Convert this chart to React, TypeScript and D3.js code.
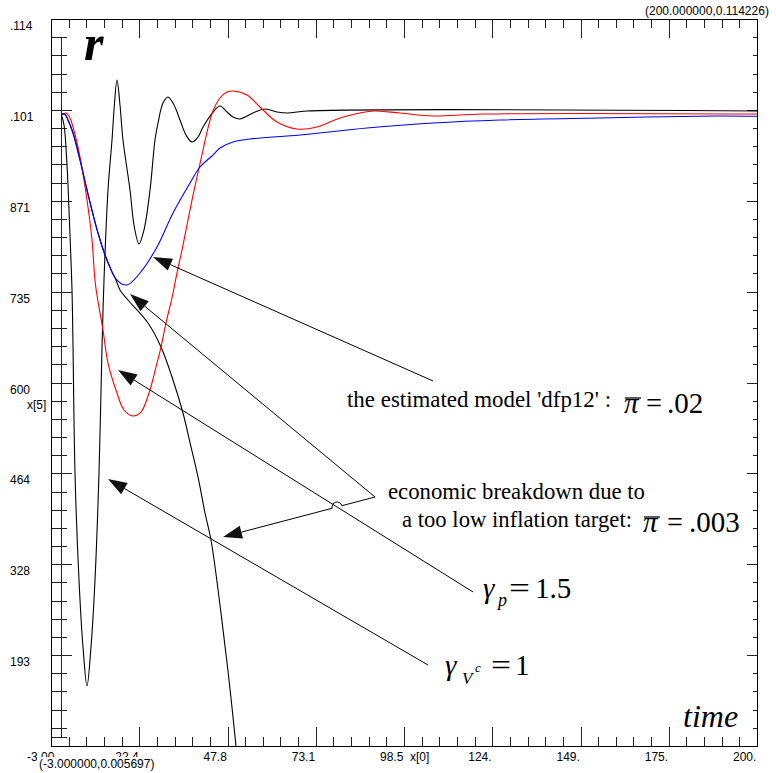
import React from "react";
import * as d3 from "d3";

const W = 776;
const H = 773;
const T_DOMAIN = [-3, 200];
const R_DOMAIN = [0.005697, 0.114226];
const X_TICK_LABELS = ["-3.00", "22.4", "47.8", "73.1", "98.5", "124.", "149.", "175.", "200."];
const Y_TICK_LABELS = [".114", ".101", "871", "735", "600", "464", "328", "193"];

// estimated model 'dfp12' (blue)
const modelSeries: [number, number][] = [
  [0, 0.10004], [1.0, 0.10000], [1.89, 0.09915], [3.33, 0.09721], [5.34, 0.09318],
  [7.35, 0.0887], [10.51, 0.08228], [13.1, 0.07825], [15.98, 0.07526], [18.85, 0.07452],
  [22.59, 0.07631], [27.48, 0.08019], [32.08, 0.08526], [36.97, 0.08974], [39.84, 0.09213],
  [43.58, 0.09392], [45.59, 0.09497], [49.33, 0.09586], [54.22, 0.09631], [68.6, 0.09691],
  [87.86, 0.09795], [106.84, 0.0987], [126.11, 0.09915], [154.86, 0.09945], [188.5, 0.09975],
  [200, 0.0997],
];

// too low inflation target (black, breakdown)
const breakdownSeries: [number, number][] = [
  [0, 0.10004], [1.0, 0.10000], [1.89, 0.09915], [3.33, 0.09721], [5.34, 0.09318],
  [7.35, 0.0887], [10.51, 0.08228], [12.53, 0.079], [14.54, 0.07646], [15.69, 0.07526],
  [16.84, 0.07377], [19.14, 0.07228], [24.89, 0.06884], [28.63, 0.06526], [32.08, 0.06034],
  [34.95, 0.05541], [37.26, 0.05034], [39.27, 0.04586], [41.28, 0.04048], [43.01, 0.03645],
  [45.88, 0.02556], [48.18, 0.01555], [50.2, 0.0057], [51.35, -0.00087],
];

// gamma_p = 1.5 (red)
const gammaPSeries: [number, number][] = [
  [0, 0.0999], [1.31, 0.10019], [2.46, 0.09945], [3.33, 0.0981], [5.34, 0.09363],
  [7.35, 0.0872], [8.79, 0.08123], [9.8, 0.07452], [11.95, 0.0678], [13.39, 0.06287],
  [15.69, 0.05884], [17.99, 0.05586], [20.58, 0.05496], [22.88, 0.05556], [25.18, 0.05839],
  [27.19, 0.06228], [28.63, 0.06526], [30.07, 0.06888], [31.79, 0.07258], [33.23, 0.07631],
  [34.67, 0.07974], [36.1, 0.08347], [37.54, 0.0872], [38.98, 0.09064], [40.71, 0.09467],
  [42.14, 0.09795], [43.58, 0.10049], [45.59, 0.10243], [47.61, 0.10333], [49.33, 0.10348],
  [53.36, 0.10288], [57.1, 0.10109], [61.98, 0.09885], [67.73, 0.0978],
  [73.49, 0.0981], [80.1, 0.09945], [85.85, 0.10019], [89.59, 0.10049], [97.35, 0.10019],
  [106.84, 0.09975], [121.22, 0.10004], [200, 0.10004],
];

// gamma_Vc = 1 (black, oscillating)
const gammaVSeries: [number, number][] = [
  [0, 0.0999], [0.74, 0.0984], [1.6, 0.09243], [2.46, 0.08198], [3.04, 0.07377],
  [3.33, 0.06526], [3.9, 0.04645], [5.05, 0.03048], [6.2, 0.02048], [7.35, 0.01465],
  [8.5, 0.02048], [9.65, 0.03048], [10.8, 0.04645], [11.67, 0.06526], [12.24, 0.07526],
  [13.39, 0.0887], [14.54, 0.09616], [15.12, 0.10064], [15.98, 0.10512], [16.84, 0.10139],
  [17.7, 0.09616], [19.72, 0.0887], [20.87, 0.08347], [22.3, 0.08064], [23.74, 0.08273],
  [25.47, 0.0887], [26.9, 0.09616], [27.77, 0.0987], [29.2, 0.10169], [30.64, 0.10258],
  [32.37, 0.10139], [34.09, 0.09915], [35.82, 0.09691], [37.54, 0.09586], [39.27, 0.09661],
  [40.71, 0.0981], [43.58, 0.10034], [45.59, 0.10124], [47.61, 0.10034], [49.33, 0.0996],
  [51.35, 0.0993], [53.36, 0.09975], [55.08, 0.10019], [58.53, 0.10079], [61.98, 0.10034],
  [65.15, 0.10019], [70.61, 0.10049], [200, 0.10049],
];

// annotation anchors in data units: [start t, start r, tip t, tip r]
const modelArrow = [106.84, 0.06019, 26.33, 0.0787];
const breakdownJoin = [90.16, 0.04287];
const breakdownTips = [[19.72, 0.07317], [46.46, 0.0369]];
const gammaPArrow = [118.34, 0.02869, 16.26, 0.06183];
const gammaVArrow = [105.4, 0.01779, 13.39, 0.04556];

const X0 = 51, X1 = 757, Y0 = 19, Y1 = 746;

function arrowHead(x1: number, y1: number, x2: number, y2: number, L = 19, hw = 6.5) {
  const dx = x2 - x1, dy = y2 - y1;
  const len = Math.hypot(dx, dy);
  const ux = dx / len, uy = dy / len;
  const bx = x2 - L * ux, by = y2 - L * uy;
  const px = -uy, py = ux;
  return {
    pts: `${x2},${y2} ${bx + hw * px},${by + hw * py} ${bx - hw * px},${by - hw * py}`,
    bx, by,
  };
}

function intersect(a: number[], b: number[], c: number[], d: number[]) {
  const r1x = b[0] - a[0], r1y = b[1] - a[1];
  const r2x = d[0] - c[0], r2y = d[1] - c[1];
  const den = r1x * r2y - r1y * r2x;
  const t = ((c[0] - a[0]) * r2y - (c[1] - a[1]) * r2x) / den;
  return [a[0] + t * r1x, a[1] + t * r1y];
}

export default function App() {
  const x = d3.scaleLinear().domain(T_DOMAIN).range([X0, X1]);
  const y = d3.scaleLinear().domain(R_DOMAIN).range([Y1, Y0]);
  const line = d3
    .line<[number, number]>()
    .x((d) => x(d[0]))
    .y((d) => y(d[1]))
    .curve(d3.curveCatmullRom.alpha(0.5));

  const tSpan = T_DOMAIN[1] - T_DOMAIN[0];
  const rSpan = R_DOMAIN[1] - R_DOMAIN[0];
  const xMajor = d3.range(9).map((i) => T_DOMAIN[0] + (i * tSpan) / 8);
  const xMinor = d3.range(41).map((i) => T_DOMAIN[0] + (i * tSpan) / 40);
  const yMajor = d3.range(9).map((i) => R_DOMAIN[1] - (i * rSpan) / 8);
  const yMinor = d3.range(41).map((i) => R_DOMAIN[1] - (i * rSpan) / 40);

  const tickColor = "#222";

  // annotation geometry
  const mA = arrowHead(x(modelArrow[0]), y(modelArrow[1]), x(modelArrow[2]), y(modelArrow[3]));
  const J = [x(breakdownJoin[0]), y(breakdownJoin[1])];
  const T1 = [x(breakdownTips[0][0]), y(breakdownTips[0][1])];
  const T2 = [x(breakdownTips[1][0]), y(breakdownTips[1][1])];
  const b1 = arrowHead(J[0], J[1], T1[0], T1[1]);
  const b2 = arrowHead(J[0], J[1], T2[0], T2[1]);
  const pS = [x(gammaPArrow[0]), y(gammaPArrow[1])];
  const pT = [x(gammaPArrow[2]), y(gammaPArrow[3])];
  const pA = arrowHead(pS[0], pS[1], pT[0], pT[1]);
  const vA = arrowHead(x(gammaVArrow[0]), y(gammaVArrow[1]), x(gammaVArrow[2]), y(gammaVArrow[3]));

  // hop where breakdown line 2 crosses the gamma_p line
  const I = intersect(J, T2, pS, pT);
  const d2x = T2[0] - J[0], d2y = T2[1] - J[1];
  const d2l = Math.hypot(d2x, d2y);
  const hr = 5;
  const hA = [I[0] - (hr * d2x) / d2l, I[1] - (hr * d2y) / d2l];
  const hB = [I[0] + (hr * d2x) / d2l, I[1] + (hr * d2y) / d2l];
  const hopPath = `M${J[0]},${J[1]} L${hA[0]},${hA[1]} A${hr},${hr} 0 0 0 ${hB[0]},${hB[1]} L${b2.bx},${b2.by}`;

  const sans = "'Liberation Sans', Arial, sans-serif";
  const serif = "'Liberation Serif', 'Times New Roman', serif";

  return (
    <svg
      width={W}
      height={H}
      viewBox={`0 0 ${W} ${H}`}
      style={{ position: "absolute", left: 0, top: 0, background: "#fff" }}
    >
      <defs>
        <clipPath id="plotClip">
          <rect x={X0} y={Y0} width={X1 - X0} height={Y1 - Y0} />
        </clipPath>
      </defs>
      <rect x={0} y={0} width={W} height={H} fill="#fff" />

      {/* ticks */}
      <g stroke={tickColor} strokeWidth={1} shapeRendering="crispEdges">
        {xMinor.map((t, i) => {
          const major = i % 5 === 0;
          const px = Math.round(x(t)) + 0.5;
          return (
            <g key={"xt" + i}>
              <line x1={px} x2={px} y1={Y0} y2={Y0 + (major ? 19 : 9)} />
              <line x1={px} x2={px} y1={Y1} y2={Y1 - (major ? 19 : 9)} />
            </g>
          );
        })}
        {yMinor.map((r, i) => {
          const major = i % 5 === 0;
          const py = Math.round(y(r)) + 0.5;
          return (
            <g key={"yt" + i}>
              <line x1={X0} x2={X0 + (major ? 21 : 16)} y1={py} y2={py} />
              <line x1={X1} x2={X1 - (major ? 10 : 4)} y1={py} y2={py} />
            </g>
          );
        })}
        <line
          x1={Math.round(x(0)) + 0.5}
          x2={Math.round(x(0)) + 0.5}
          y1={Math.round(y(yMinor[1]))}
          y2={Y1 - 9}
        />
        <line x1={X0} x2={X0 + 16} y1={Y1 - 9 + 0.5} y2={Y1 - 9 + 0.5} />
      </g>
      <rect
        x={X0 + 0.5}
        y={Y0 + 0.5}
        width={X1 - X0}
        height={Y1 - Y0}
        fill="none"
        stroke="#000"
        strokeWidth={1}
        shapeRendering="crispEdges"
      />

      {/* curves */}
      <g clipPath="url(#plotClip)" fill="none" strokeWidth={1.1}>
        <path d={line(breakdownSeries) || ""} stroke="#000" />
        <path d={line(gammaVSeries) || ""} stroke="#000" />
        <path d={line(gammaPSeries) || ""} stroke="#ff0000" />
        <path d={line(modelSeries) || ""} stroke="#0000ff" />
      </g>

      {/* annotation arrows */}
      <g stroke="#000" strokeWidth={1} fill="none">
        <line x1={x(modelArrow[0])} y1={y(modelArrow[1])} x2={mA.bx} y2={mA.by} />
        <line x1={J[0]} y1={J[1]} x2={b1.bx} y2={b1.by} />
        <path d={hopPath} />
        <line x1={pS[0]} y1={pS[1]} x2={pA.bx} y2={pA.by} />
        <line x1={x(gammaVArrow[0])} y1={y(gammaVArrow[1])} x2={vA.bx} y2={vA.by} />
      </g>
      <g fill="#111" stroke="none">
        <polygon points={mA.pts} />
        <polygon points={b1.pts} />
        <polygon points={b2.pts} />
        <polygon points={pA.pts} />
        <polygon points={vA.pts} />
      </g>

      {/* axis labels */}
      <g fontFamily={sans} fontSize={12} fill="#000">
        {Y_TICK_LABELS.map((s, i) => (
          <text key={"yl" + i} x={10} y={y(yMajor[i]) + 11}>
            {s}
          </text>
        ))}
        {X_TICK_LABELS.map((s, i) => (
          <text key={"xl" + i} x={x(xMajor[i]) - 24} y={761}>
            {s}
          </text>
        ))}
        <text x={27} y={409}>x[5]</text>
        <text x={410} y={761}>x[0]</text>
        <rect x={37} y={757} width={122} height={14} fill="#fff" />
        <text x={39} y={768}>(-3.000000,0.005697)</text>
        <text x={645} y={15}>(200.000000,0.114226)</text>
      </g>

      {/* titles */}
      <text x={84} y={60} fontFamily={serif} fontStyle="italic" fontWeight="bold" fontSize={50}>
        r
      </text>
      <text x={683} y={727} fontFamily={serif} fontStyle="italic" fontSize={32}>
        time
      </text>

      {/* annotation texts */}
      <g fontFamily={serif} fill="#000">
        <text x={347} y={407} fontSize={24} textLength={264} lengthAdjust="spacingAndGlyphs">
          the estimated model 'dfp12' :
        </text>
        <text x={624} y={413} fontSize={29} fontStyle="italic">π</text>
        <line x1={625} x2={641} y1={398} y2={398} stroke="#000" strokeWidth={1.3} />
        <text x={646} y={413} fontSize={29} textLength={16} lengthAdjust="spacingAndGlyphs">=</text>
        <text x={667} y={413} fontSize={29}>.02</text>

        <text x={388} y={499} fontSize={24} textLength={257} lengthAdjust="spacingAndGlyphs">
          economic breakdown due to
        </text>
        <text x={402} y={527} fontSize={23} textLength={230} lengthAdjust="spacingAndGlyphs">
          a too low inflation target:
        </text>
        <text x={643} y={532} fontSize={29} fontStyle="italic">π</text>
        <line x1={644} x2={660} y1={517} y2={517} stroke="#000" strokeWidth={1.3} />
        <text x={667} y={532} fontSize={29} textLength={16} lengthAdjust="spacingAndGlyphs">=</text>
        <text x={689} y={532} fontSize={29}>.003</text>

        <text x={483} y={598} fontSize={29} fontStyle="italic">γ</text>
        <text x={498} y={606} fontSize={18} fontStyle="italic">p</text>
        <text x={509} y={598} fontSize={29} textLength={21} lengthAdjust="spacingAndGlyphs">=</text>
        <text x={535} y={598} fontSize={29}>1.5</text>

        <text x={445} y={675} fontSize={29} fontStyle="italic">γ</text>
        <text x={462} y={684} fontSize={17} fontStyle="italic">V</text>
        <text x={475} y={672} fontSize={13} fontStyle="italic">c</text>
        <text x={491} y={675} fontSize={29} textLength={20} lengthAdjust="spacingAndGlyphs">=</text>
        <text x={515} y={675} fontSize={29}>1</text>
      </g>
    </svg>
  );
}
